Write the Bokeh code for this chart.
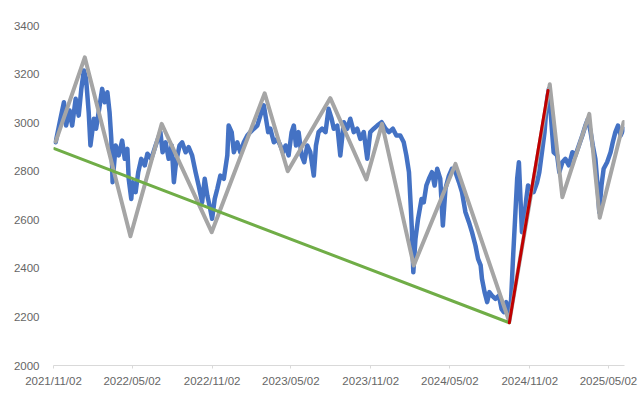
import pandas as pd
from bokeh.plotting import figure
from bokeh.models import Range1d, FixedTicker, DatetimeTickFormatter
from bokeh.embed import file_html
from bokeh.resources import INLINE

start_date = pd.Timestamp("2021-11-02")

# x-axis tick labels and y ticks
tick_labels = ["2021/11/02", "2022/05/02", "2022/11/02", "2023/05/02",
               "2023/11/02", "2024/05/02", "2024/11/02", "2025/05/02"]
y_ticks = [2000, 2200, 2400, 2600, 2800, 3000, 3200, 3400]

# blue price series (days after 2021-11-02, value)
price_days = [5, 16, 24, 29, 37, 43, 51, 58, 64, 70, 75, 81, 85, 93, 98, 104, 112, 118, 124, 129,
              133, 136, 143, 150, 158, 164, 170, 173, 179, 182, 189, 195, 202, 210, 216, 225, 235, 246, 251, 258,
              265, 272, 277, 282, 290, 296, 304, 311, 319, 327, 334, 342, 348, 354, 359, 365, 371, 377, 384, 392,
              400, 403, 410, 415, 423, 430, 438, 446, 453, 461, 469, 476, 484, 489, 494, 499, 507, 515, 522, 528,
              534, 541, 548, 553, 558, 564, 571, 577, 584, 591, 599, 604, 610, 618, 626, 633, 640, 645, 653, 660,
              668, 676, 683, 691, 699, 706, 714, 722, 729, 737, 745, 755, 764, 772, 781, 789, 798, 806, 812, 818,
              822, 825, 828, 833, 839, 847, 852, 858, 864, 871, 877, 883, 890, 896, 902, 910, 917, 925, 933, 940,
              948, 956, 963, 971, 977, 983, 986, 992, 998, 1003, 1009, 1017, 1025, 1031, 1036, 1042, 1046, 1052, 1057, 1063,
              1067, 1071, 1075, 1078, 1083, 1088, 1092, 1098, 1105, 1113, 1118, 1124, 1130, 1136, 1140, 1144, 1148, 1151, 1159, 1164,
              1171, 1178, 1186, 1194, 1201, 1209, 1217, 1224, 1230, 1236, 1241, 1247, 1252, 1256, 1261, 1266, 1274, 1282, 1287, 1293,
              1299, 1305, 1312]
price_values = [2919, 3016, 3084, 2988, 3050, 2988, 3098, 3029, 3139, 3215, 3180, 3043, 2906, 3016, 2975, 3043, 3139, 3084, 3125, 3043,
                2933, 2755, 2906, 2865, 2926, 2851, 2892, 2769, 2686, 2755, 2714, 2796, 2851, 2824, 2872, 2851, 2906, 2961, 2878, 2919,
                2851, 2906, 2755, 2837, 2906, 2919, 2878, 2899, 2865, 2796, 2741, 2672, 2769, 2700, 2659, 2604, 2686, 2728, 2782, 2769,
                2865, 2988, 2961, 2878, 2919, 2878, 2919, 2947, 2961, 2975, 2988, 3029, 3071, 3016, 2961, 2975, 2919, 2933, 2906, 2878,
                2906, 2865, 2961, 2988, 2906, 2961, 2865, 2837, 2906, 2878, 2782, 2906, 2961, 2975, 2961, 3057, 3016, 2975, 2988, 2865,
                3002, 2975, 3016, 2961, 2975, 2933, 2961, 2851, 2961, 2975, 2988, 3002, 2975, 2961, 2975, 2947, 2947, 2919, 2865, 2796,
                2659, 2549, 2384, 2522, 2604, 2686, 2672, 2741, 2769, 2796, 2741, 2810, 2769, 2576, 2728, 2782, 2810, 2796, 2755, 2714,
                2631, 2590, 2549, 2494, 2439, 2412, 2357, 2302, 2261, 2302, 2288, 2274, 2288, 2233, 2220, 2261, 2206, 2233, 2425, 2631,
                2769, 2837, 2672, 2549, 2604, 2686, 2741, 2728, 2714, 2755, 2796, 2878, 2961, 3098, 3139, 3043, 2947, 2878, 2865, 2796,
                2837, 2851, 2824, 2878, 2865, 2906, 2947, 2988, 3016, 2961, 2906, 2851, 2741, 2631, 2741, 2810, 2837, 2878, 2919, 2961,
                2988, 2947, 2975]

# gray zig-zag (swing points)
swing_days = [5, 72, 177, 249, 364, 486, 539, 637, 720, 756, 829, 925, 1049, 1142, 1171, 1233, 1257, 1312]
swing_values = [2922, 3269, 2532, 2995, 2549, 3121, 2800, 3101, 2766, 2995, 2412, 2830, 2180, 3158, 2693, 3036, 2608, 3003]

# green down trend line and red up trend line
green_days = [2, 1049]
green_values = [2893, 2176]
red_days = [1049, 1138]
red_values = [2176, 3132]


def to_dates(days):
    return [start_date + pd.Timedelta(days=d) for d in days]


tick_dates = [pd.Timestamp(t.replace("/", "-")) for t in tick_labels]

p = figure(width=639, height=393, output_backend="svg", toolbar_location=None,
           x_axis_type="datetime",
           x_range=Range1d(start_date, start_date + pd.Timedelta(days=1314)),
           y_range=Range1d(2000, 3400),
           min_border_left=53, min_border_right=15, min_border_top=25, min_border_bottom=28)
p.outline_line_color = None
p.background_fill_color = "white"
p.border_fill_color = "white"
p.xgrid.visible = False
p.ygrid.visible = False

p.line(to_dates(price_days), price_values, line_color="#4472C4", line_width=4.5,
       line_join="round", line_cap="round")
p.line(to_dates(swing_days), swing_values, line_color="#A5A5A5", line_width=4,
       line_join="round", line_cap="round")
p.line(to_dates(green_days), green_values, line_color="#70AD47", line_width=3, line_cap="round")
p.line(to_dates(red_days), red_values, line_color="#C00000", line_width=3, line_cap="round")

font = "Liberation Sans"
xa = p.xaxis[0]
xa.ticker = FixedTicker(ticks=[t.value / 1e6 for t in tick_dates])
fmt = "%Y/%m/%d"
xa.formatter = DatetimeTickFormatter(milliseconds=fmt, seconds=fmt, minsec=fmt, minutes=fmt,
                                     hourmin=fmt, hours=fmt, days=fmt, months=fmt, years=fmt)
xa.axis_line_color = "#D9D9D9"
xa.major_tick_line_color = "#D9D9D9"
xa.major_tick_out = 3
xa.major_tick_in = 0
xa.minor_tick_line_color = None
xa.major_label_standoff = 6
xa.major_label_text_font = font
xa.major_label_text_font_size = "11.5px"
xa.major_label_text_color = "#666666"

ya = p.yaxis[0]
ya.ticker = FixedTicker(ticks=y_ticks)
ya.axis_line_color = None
ya.major_tick_line_color = None
ya.minor_tick_line_color = None
ya.major_tick_out = 0
ya.major_tick_in = 0
ya.major_label_standoff = 14
ya.major_label_text_font = font
ya.major_label_text_font_size = "11.5px"
ya.major_label_text_color = "#666666"

open("out.html", "w").write(file_html(p, INLINE))
